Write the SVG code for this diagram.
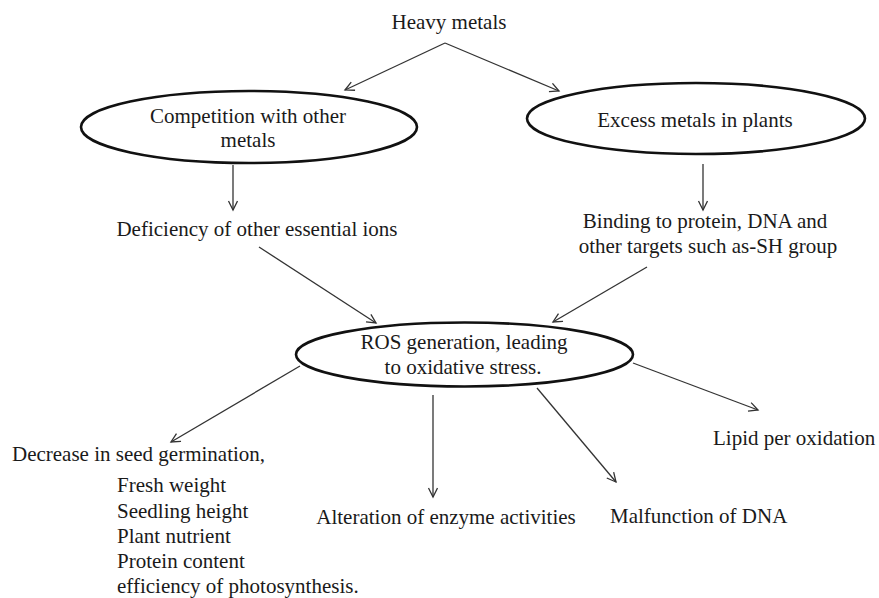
<svg xmlns="http://www.w3.org/2000/svg" width="879" height="598" viewBox="0 0 879 598">
<style>
  text { font-family: "Liberation Serif", "Times New Roman", serif; font-size: 21px; fill: #1a1a1a; }
  .c { text-anchor: middle; }
  .node ellipse { fill: none; stroke: #111; stroke-width: 2.6; }
  .conn line { stroke: #333; stroke-width: 1.3; marker-end: url(#arr); }
</style>
<defs>
  <marker id="arr" markerUnits="userSpaceOnUse" markerWidth="14" markerHeight="14" refX="10" refY="5" orient="auto">
    <path d="M1,0.5 L10,5 L1,9.5" fill="none" stroke="#333" stroke-width="1.3"/>
  </marker>
</defs>
<rect width="879" height="598" fill="#ffffff"/>
<g id="connectors" class="conn">
  <line x1="445" y1="43" x2="345" y2="90"/>
  <line x1="445" y1="43" x2="559" y2="91"/>
  <line x1="233" y1="165" x2="233" y2="210"/>
  <line x1="703" y1="164" x2="703" y2="210"/>
  <line x1="259" y1="247" x2="376" y2="323"/>
  <line x1="647" y1="267" x2="553" y2="322"/>
  <line x1="300" y1="366" x2="171" y2="442"/>
  <line x1="433" y1="395" x2="433" y2="497"/>
  <line x1="537" y1="388" x2="616" y2="482"/>
  <line x1="633" y1="363" x2="758" y2="410"/>
</g>
<g id="heavy-metals">
  <text class="c" x="449" y="29">Heavy metals</text>
</g>
<g id="competition" class="node">
  <ellipse cx="249" cy="127" rx="168" ry="36"/>
  <text class="c" x="248" y="123">Competition with other</text>
  <text class="c" x="248" y="147">metals</text>
</g>
<g id="excess" class="node">
  <ellipse cx="696" cy="118.5" rx="169" ry="35.5"/>
  <text class="c" x="695" y="127">Excess metals in plants</text>
</g>
<g id="deficiency">
  <text class="c" x="257" y="236">Deficiency of other essential ions</text>
</g>
<g id="binding">
  <text class="c" x="705" y="228">Binding to protein, DNA and</text>
  <text class="c" x="708" y="253">other targets such as-SH group</text>
</g>
<g id="ros" class="node">
  <ellipse cx="464.5" cy="354.5" rx="168.5" ry="32"/>
  <text class="c" x="464" y="349">ROS generation, leading</text>
  <text class="c" x="463" y="374">to oxidative stress.</text>
</g>
<g id="decrease">
  <text x="12" y="461">Decrease in seed germination,</text>
  <text x="117" y="492">Fresh weight</text>
  <text x="117" y="518">Seedling height</text>
  <text x="117" y="543">Plant nutrient</text>
  <text x="117" y="568">Protein content</text>
  <text x="117" y="593">efficiency of photosynthesis.</text>
</g>
<g id="alteration">
  <text class="c" x="446" y="524">Alteration of enzyme activities</text>
</g>
<g id="malfunction">
  <text x="610" y="523">Malfunction of DNA</text>
</g>
<g id="lipid">
  <text x="713" y="445">Lipid per oxidation</text>
</g>
</svg>
